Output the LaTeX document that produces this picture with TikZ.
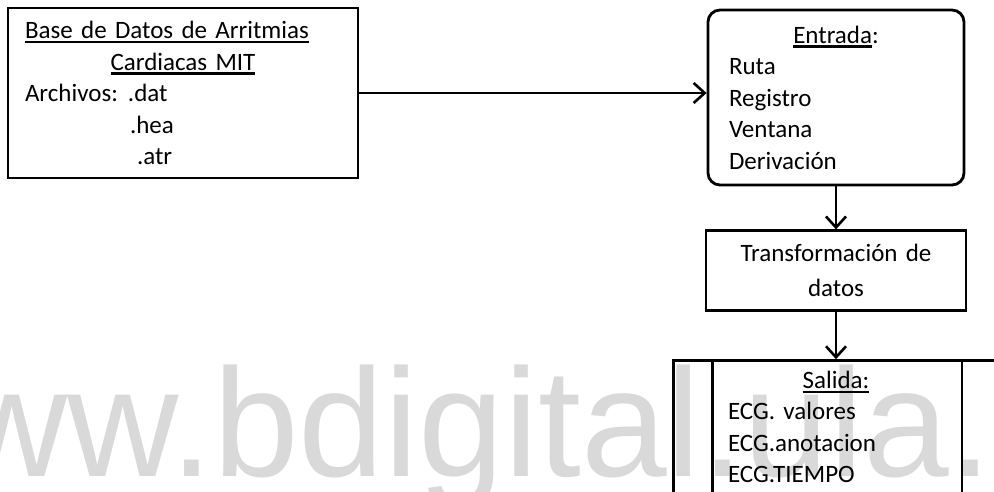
\documentclass[tikz,border=0pt]{standalone}
\usepackage{fontspec}
\setmainfont{Carlito}
\newfontfamily\marcaagua{Liberation Sans}
\usetikzlibrary{arrows.meta,positioning}
\newsavebox\cajasub
\newcommand{\subrayado}[1]{\sbox\cajasub{#1}\rlap{\rule[-4.5pt]{\wd\cajasub}{2.2pt}}\usebox\cajasub}

\begin{document}
\begin{tikzpicture}[x=1pt, y=1pt, line width=2.8pt,
  caja/.style={draw, rectangle, inner sep=0pt, font=\fontsize{25}{31.5}\selectfont},
  flecha/.style={-{Straight Barb[length=11pt,width=20pt]}, line width=2.6pt}]
\useasboundingbox (0,-492) rectangle (994,0);
\clip (0,-492) rectangle (994,0);
% marca de agua
\node[anchor=base west, inner sep=0pt, text=black!15, font=\marcaagua\fontsize{154}{154}\selectfont] (marca) at (-156,-476) {www.bdigital.ula.};
% nodos
\node[caja, minimum width=350pt, minimum height=170pt, text width=316pt, align=left] (db) at (183,-93) {%
  \subrayado{Base de Datos de Arritmias}\\
  \makebox[\hsize]{\subrayado{Cardiacas MIT}}\\
  \makebox[103pt][l]{Archivos:}.dat\\
  \hspace*{105pt}.hea\\
  \hspace*{112pt}.atr};
\node[caja, rounded corners=12pt, minimum width=256pt, minimum height=175pt, text width=214pt, align=left] (entrada) at (836,-97.5) {%
  \makebox[\hsize]{\subrayado{Entrada}:}\\
  Ruta\\ Registro\\ Ventana\\ Derivación};
\node[caja, minimum width=260pt, minimum height=80pt, text width=240pt, align=center, font=\fontsize{25}{35}\selectfont, below=43pt of entrada] (trans) {Transformación de\\datos};
\node[caja, minimum width=325pt, minimum height=133pt, text width=216pt, align=left, below=47pt of trans] (salida) {%
  \makebox[\hsize]{\subrayado{Salida:}}\\
  ECG. valores\\ ECG.anotacion\\ ECG.TIEMPO};
\draw ([xshift=40pt]salida.north west) -- ([xshift=40pt]salida.south west);
\draw ([xshift=-38pt]salida.north east) -- ([xshift=-38pt]salida.south east);
% flujo
\draw[flecha] (db.east) -- (db.east -| entrada.west);
\draw[flecha] (entrada) -- (trans);
\draw[flecha] (trans) -- (salida);
\end{tikzpicture}
\end{document}
